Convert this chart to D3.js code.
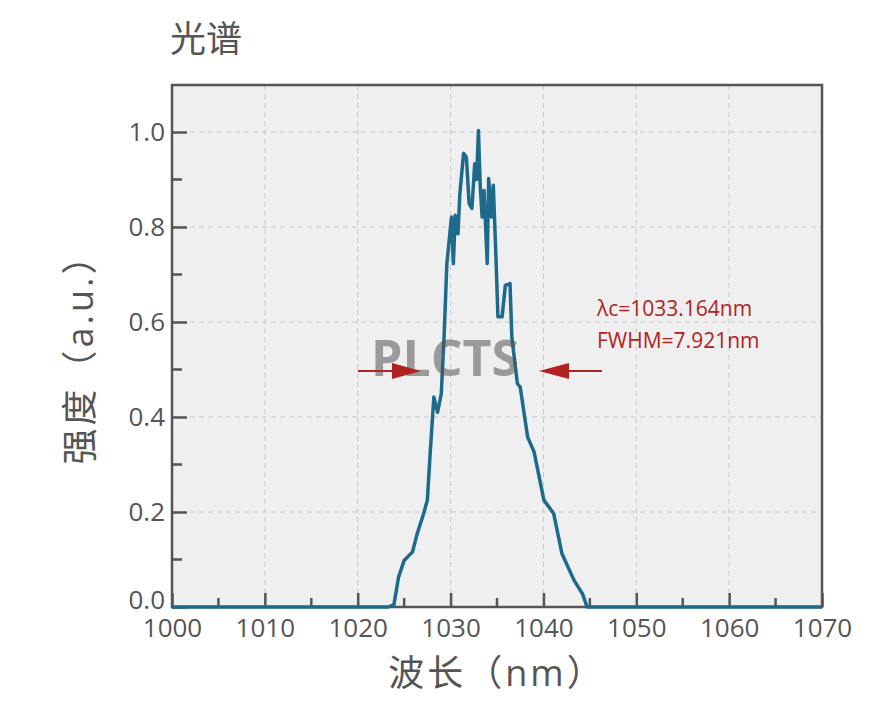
<!DOCTYPE html>
<html><head><meta charset="utf-8">
<script src="https://cdn.jsdelivr.net/npm/d3@7"></script>
<style>body{margin:0;background:#fff}text{font-family:"Open Sans","Noto Sans CJK SC",sans-serif}</style>
</head><body><svg id="c" width="878" height="715"></svg>
<script>
const wavelength = [1000,1023.3,1023.9,1024.4,1025,1025.9,1026.4,1027.1,1027.5,1027.8,1028.2,1028.6,1029,1029.3,1029.6,1030.1,1030.3,1030.5,1030.8,1031,1031.4,1031.7,1032,1032.3,1032.6,1032.8,1033,1033.2,1033.4,1033.6,1033.95,1034.1,1034.4,1034.6,1034.85,1035.1,1035.55,1035.9,1036.4,1036.6,1037.2,1037.5,1038.3,1039,1040.05,1041.1,1042,1043.3,1044.2,1044.7,1070];
const intensity = [0,0,0.005,0.063,0.098,0.116,0.154,0.197,0.225,0.323,0.442,0.41,0.449,0.568,0.723,0.821,0.723,0.825,0.786,0.87,0.955,0.947,0.849,0.839,0.933,0.9,1.003,0.884,0.821,0.877,0.723,0.902,0.821,0.888,0.758,0.611,0.611,0.677,0.681,0.568,0.47,0.463,0.358,0.326,0.225,0.197,0.112,0.056,0.028,0,0];
const xTicks = [1000,1010,1020,1030,1040,1050,1060,1070];
const yTicks = [0,0.2,0.4,0.6,0.8,1.0];
const notes = ['λc=1033.164nm','FWHM=7.921nm'];

const svg = d3.select('#c');
const L = 172, R = 822, T = 85, B = 607;
const x = d3.scaleLinear().domain([1000,1070]).range([L,R]);
const y = d3.scaleLinear().domain([0,1]).range([B,B-475]);
const grey = '#555';

svg.append('rect').attr('x',L).attr('y',T).attr('width',R-L).attr('height',B-T).attr('fill','#efefef');

// grid
svg.append('g').selectAll('line').data(xTicks.slice(1,-1)).join('line')
  .attr('x1',d=>x(d)).attr('x2',d=>x(d)).attr('y1',T).attr('y2',B)
  .attr('stroke','#c8c8c8').attr('stroke-dasharray','5,4');
svg.append('g').selectAll('line').data(yTicks.slice(1)).join('line')
  .attr('y1',d=>y(d)).attr('y2',d=>y(d)).attr('x1',L).attr('x2',R)
  .attr('stroke','#c8c8c8').attr('stroke-dasharray','5,4');

// axes
const xa = svg.append('g').attr('transform',`translate(0,${B})`)
  .call(d3.axisBottom(x).tickValues(xTicks).tickFormat(d3.format('d')).tickSizeInner(-14).tickSizeOuter(0).tickPadding(8));
const ya = svg.append('g').attr('transform',`translate(${L},0)`)
  .call(d3.axisLeft(y).tickValues(yTicks).tickFormat(d3.format('.1f')).tickSizeInner(-15).tickSizeOuter(0).tickPadding(7));
[xa,ya].forEach(g=>{
  g.select('.domain').remove();
  g.selectAll('line').attr('stroke',grey).attr('stroke-width',2.5);
  g.selectAll('text').attr('fill',grey).style('font-size','26px');
});
xa.selectAll('text').attr('dy','0.85em');
ya.selectAll('text').filter(d=>d===0).attr('dy','0.05em');
// minor ticks
svg.append('g').selectAll('line').data(d3.range(1005,1070,10)).join('line')
  .attr('x1',d=>x(d)).attr('x2',d=>x(d)).attr('y1',B).attr('y2',B-9).attr('stroke',grey).attr('stroke-width',2.5);
svg.append('g').selectAll('line').data(d3.range(0.1,1.0,0.2)).join('line')
  .attr('y1',d=>y(d)).attr('y2',d=>y(d)).attr('x1',L).attr('x2',L+10).attr('stroke',grey).attr('stroke-width',2.5);

// frame
svg.append('rect').attr('x',L).attr('y',T).attr('width',R-L).attr('height',B-T)
  .attr('fill','none').attr('stroke',grey).attr('stroke-width',2.5);

// curve
svg.append('path').datum(wavelength.map((w,i)=>[w,intensity[i]]))
  .attr('d',d3.line().x(d=>x(d[0])).y(d=>y(d[1])))
  .attr('fill','none').attr('stroke','#1d6a8c').attr('stroke-width',3.5).attr('stroke-linejoin','round');

// watermark
svg.append('text').attr('x',445).attr('y',376).attr('text-anchor','middle')
  .attr('fill','#555').attr('opacity',0.55).style('font-size','50px').style('font-weight','bold').text('PLCTS');

// FWHM arrows
const red = '#b22222';
const ay = 371;
svg.append('line').attr('x1',358).attr('x2',395).attr('y1',ay).attr('y2',ay).attr('stroke',red).attr('stroke-width',2);
svg.append('path').attr('d',`M392,${ay-8}L421,${ay}L392,${ay+8}Z`).attr('fill',red);
svg.append('line').attr('x1',565).attr('x2',602).attr('y1',ay).attr('y2',ay).attr('stroke',red).attr('stroke-width',2);
svg.append('path').attr('d',`M569,${ay-8}L539,${ay}L569,${ay+8}Z`).attr('fill',red);

svg.append('g').selectAll('text').data(notes).join('text')
  .attr('x',597).attr('y',(d,i)=>316+i*32).attr('fill',red).style('font-size','21px').text(d=>d);

// titles
svg.append('text').attr('x',170).attr('y',52).attr('fill',grey).style('font-size','36px').text('光谱');
svg.append('text').attr('x',497).attr('y',686).attr('text-anchor','middle').attr('fill',grey)
  .style('font-size','36px').style('letter-spacing','3px').text('波长（nm）');
svg.append('text').attr('transform','translate(93,350) rotate(-90)').attr('text-anchor','middle').attr('fill',grey)
  .style('font-size','36px').style('letter-spacing','3px').text('强度（a.u.）');
</script></body></html>
